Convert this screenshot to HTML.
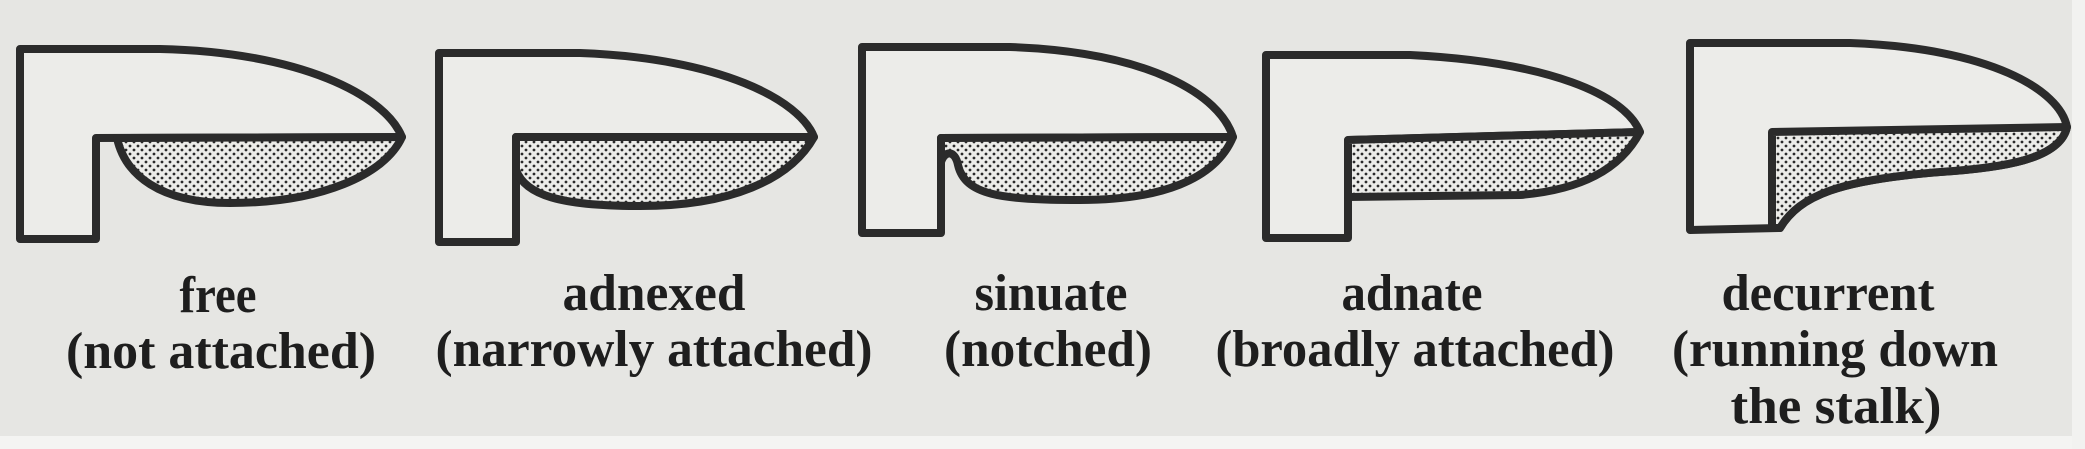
<!DOCTYPE html>
<html><head><meta charset="utf-8"><style>
html,body{margin:0;padding:0;background:#e9e9e7;}
svg{display:block}
text{font-family:"Liberation Serif",serif;font-weight:bold;fill:#1e1e1e;font-size:52px;}
</style></head><body>
<svg width="2085" height="449" viewBox="0 0 2085 449">
<defs>
<pattern id="dots" width="8" height="8" patternUnits="userSpaceOnUse">
<rect width="8" height="8" fill="#ecece9"/>
<circle cx="2" cy="2" r="1.4" fill="#2a2a2a"/>
<circle cx="6" cy="6" r="1.4" fill="#2a2a2a"/>
</pattern>
</defs>
<rect x="0" y="0" width="2085" height="436" fill="#e6e6e3"/>
<rect x="0" y="436" width="2085" height="13" fill="#f4f4f2"/>
<rect x="2072" y="0" width="13" height="449" fill="#f2f2f0"/>
<g stroke="#2b2b2b" stroke-width="8" stroke-linejoin="round" fill="#ecece9">
<g>
<path d="M20,49 L160,49 C300,52 385,95 402,137 L96,138 L96,239 L20,239 Z"/>
<path d="M117,138 C125,175 160,203 230,203 C320,203 385,175 402,137 Z" fill="url(#dots)"/>
</g>
<g>
<path d="M439,53 L580,53 C720,58 800,100 814,137 L516,137 L516,242 L439,242 Z"/>
<path d="M516,137 L516,170 C525,195 560,206 640,206 C730,206 790,180 814,137 Z" fill="url(#dots)"/>
</g>
<g>
<path d="M862,47 L1010,47 C1150,52 1220,95 1233,137 L941,138 L941,233 L862,233 Z"/>
<path d="M941,138 L941,162 C945,150 955,150 958,165 C965,195 1000,200 1080,200 C1160,200 1215,180 1233,137 Z" fill="url(#dots)"/>
</g>
<g>
<path d="M1266,55 L1410,55 C1550,62 1625,95 1640,132 L1348,140 L1348,238 L1266,238 Z"/>
<path d="M1348,140 L1348,197 L1520,195 C1580,190 1620,170 1640,132 Z" fill="url(#dots)"/>
</g>
<g>
<path d="M1690,43 L1850,43 C1990,48 2060,90 2067,127 C2060,160 2000,168 1940,172 C1840,180 1800,195 1780,228 L1690,230 Z"/>
<path d="M1772,132 L2067,127 C2060,160 2000,168 1940,172 C1840,180 1800,195 1780,228 L1772,228 Z" fill="url(#dots)"/>
</g>
</g>
<g text-anchor="middle">
<text x="218" y="312" textLength="77" lengthAdjust="spacingAndGlyphs">free</text>
<text x="221" y="368" textLength="310" lengthAdjust="spacingAndGlyphs">(not attached)</text>
<text x="654" y="310" textLength="183" lengthAdjust="spacingAndGlyphs">adnexed</text>
<text x="654" y="366" textLength="437" lengthAdjust="spacingAndGlyphs">(narrowly attached)</text>
<text x="1051" y="310" textLength="153" lengthAdjust="spacingAndGlyphs">sinuate</text>
<text x="1048" y="366" textLength="208" lengthAdjust="spacingAndGlyphs">(notched)</text>
<text x="1412" y="310" textLength="141" lengthAdjust="spacingAndGlyphs">adnate</text>
<text x="1415" y="366" textLength="399" lengthAdjust="spacingAndGlyphs">(broadly attached)</text>
<text x="1828" y="310" textLength="213" lengthAdjust="spacingAndGlyphs">decurrent</text>
<text x="1835" y="366" textLength="326" lengthAdjust="spacingAndGlyphs">(running down</text>
<text x="1836" y="423" textLength="211" lengthAdjust="spacingAndGlyphs">the stalk)</text>
</g>
</svg>
</body></html>
